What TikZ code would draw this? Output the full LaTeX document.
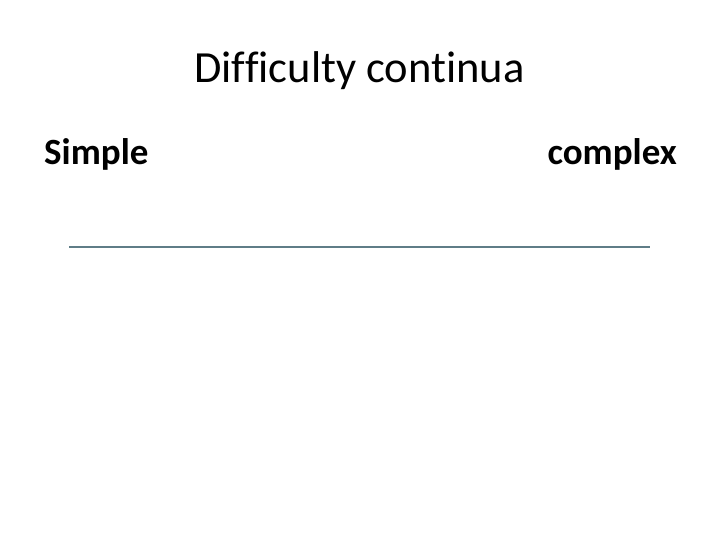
\documentclass[tikz,border=0pt]{standalone}
\usepackage{fontspec}
\setmainfont[Ligatures={NoCommon,NoRare,NoDiscretionary}]{Carlito}
\definecolor{linecol}{RGB}{95,125,135}
\begin{document}
\begin{tikzpicture}[x=1pt,y=1pt,
  title/.style={inner sep=0pt,font=\fontsize{44.5}{50}\selectfont},
  endlabel/.style={inner sep=0pt,font=\bfseries\fontsize{37}{42}\selectfont}]
\useasboundingbox (0,0) rectangle (720,540);
\node[title,anchor=base] (t) at (359.5,457) {Difficulty continua};
\node[endlabel,anchor=base west] (s) at (44,375) {Simple};
\node[endlabel,anchor=base east] (c) at (677,375) {complex};
\coordinate (l1) at (69,293);
\coordinate (l2) at (650,293);
\draw[linecol,line width=1.2pt] (l1) -- (l2);
\end{tikzpicture}
\end{document}
